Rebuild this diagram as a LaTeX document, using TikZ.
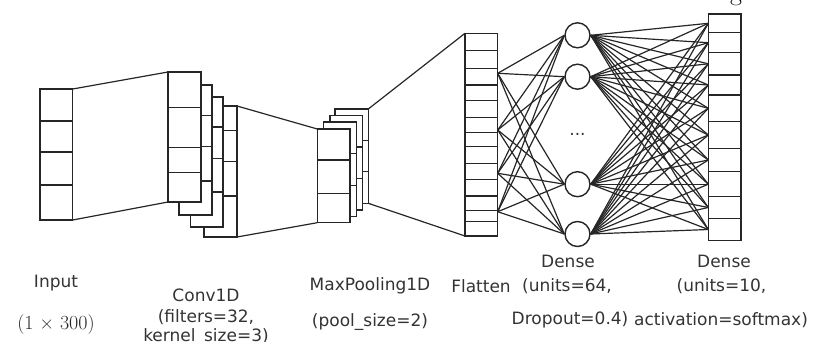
\documentclass[tikz,border=0pt]{standalone}
\usepackage{fontspec}
\setsansfont{DejaVu Sans}
\usetikzlibrary{fit}
\begin{document}
\begin{tikzpicture}[x=1pt,y=-1pt,
  layer/.style={rectangle,draw=black!85,fill=white,line width=1.5pt,inner sep=0pt,outer sep=0pt},
  divider/.style={draw=black!85,line width=1.4pt},
  link/.style={draw=black!85,line width=1.2pt},
  neuron/.style={circle,draw=black!85,fill=white,line width=1.4pt,minimum size=25pt,inner sep=0pt},
  lbl/.style={text=black!80,font=\sffamily\fontsize{17}{19}\selectfont,inner sep=0pt},
  serlbl/.style={text=black!85,font=\rmfamily\fontsize{20}{22}\selectfont,inner sep=0pt}]
\useasboundingbox (0,0) rectangle (814,342);
\clip (0,0) rectangle (814,342);

% ---------- input vector ----------
\node[layer,fit={(40,89) (72.7,220)}] (inp) {};
\foreach \yy in {121,152,185} \draw[divider] (inp.west |- 0,\yy) -- (inp.east |- 0,\yy);

% ---------- Conv1D feature maps (back to front) ----------
\node[layer,fit={(204,106) (237,237)}] (c4) {};
\foreach \yy in {130.7,161.7,196} \draw[divider] (c4.west |- 0,\yy) -- (c4.east |- 0,\yy);
\node[layer,fit={(190.7,97) (223,227)}] (c3) {};
\foreach \yy in {127,158.7,192} \draw[divider] (c3.west |- 0,\yy) -- (c3.east |- 0,\yy);
\node[layer,fit={(179,85) (212,215)}] (c2) {};
\foreach \yy in {115.7,146.7,181} \draw[divider] (c2.west |- 0,\yy) -- (c2.east |- 0,\yy);
\node[layer,fit={(168,72) (201,202)}] (c1) {};
\foreach \yy in {107.7,147.7,172.7} \draw[divider] (c1.west |- 0,\yy) -- (c1.east |- 0,\yy);

% ---------- MaxPooling1D maps (back to front) ----------
\node[layer,fit={(335,109) (368.3,203.3)}] (m4) {};
\foreach \yy in {140.4,171.8} \draw[divider] (m4.west |- 0,\yy) -- (m4.east |- 0,\yy);
\node[layer,fit={(330,115.7) (362.7,210)}] (m3) {};
\foreach \yy in {147,178.5} \draw[divider] (m3.west |- 0,\yy) -- (m3.east |- 0,\yy);
\node[layer,fit={(323.3,122) (356.7,216.7)}] (m2) {};
\foreach \yy in {153.5,185.2} \draw[divider] (m2.west |- 0,\yy) -- (m2.east |- 0,\yy);
\node[layer,fit={(317.3,129) (350,222.7)}] (m1) {};
\foreach \yy in {160,193.3} \draw[divider] (m1.west |- 0,\yy) -- (m1.east |- 0,\yy);

% ---------- flatten vector ----------
\node[layer,fit={(465,33.3) (497.7,236)}] (flat) {};
\foreach \yy in {50.7,68.3,85,100.7,117.3,132.3,146.7,163.3,179.3,196,210.7,221.7}
  \draw[divider] (flat.west |- 0,\yy) -- (flat.east |- 0,\yy);

% ---------- output vector ----------
\node[layer,fit={(708.3,14) (741,240.7)}] (out) {};
\foreach \yy in {32.7,52.7,75,95,121.7,148.3,171.7,196.7,218.3}
  \draw[divider] (out.west |- 0,\yy) -- (out.east |- 0,\yy);

% ---------- projections between layers ----------
\draw[link] (inp.north east) -- (c1.north west);
\draw[link] (inp.south east) -- (c1.south west);
\draw[link] (c4.north east) -- (m1.north west);
\draw[link] (c4.south east) -- (m1.south west);
\draw[link] (m4.north east) -- (flat.north west);
\draw[link] (m4.south east) -- (flat.south west);

% ---------- dense hidden units ----------
\foreach \yy [count=\i] in {35.3,76.7,184.2,234}
  \node[neuron] (d\i) at (577.5,\yy) {};
\node[lbl,anchor=base] (dots) at (577.5,136) {...};

% flatten -> hidden
\foreach \yy [count=\i] in {73.3,130,173.3,211.7}
  \coordinate (fs\i) at (flat.east |- 0,\yy);
\foreach \s in {1,...,4}
  \foreach \d in {1,...,4}
    \draw[link] (fs\s) -- (d\d.west);

% hidden -> output cells
\foreach \yy [count=\i] in {23.3,42.7,63.8,85,108.3,135,160,184.2,207.5,229.5}
  \coordinate (ot\i) at (out.west |- 0,\yy);
\foreach \d in {1,...,4}
  \foreach \o in {1,...,10}
    \draw[link] (d\d.east) -- (ot\o);

% ---------- captions ----------
\node[lbl] (tInput) at (56,283) {Input};
\node[serlbl] (tShape) at (56,325) {(1 × 300)};
\node[lbl] (tConv) at (206,295) {Conv1D};
\node[lbl] (tFilt) at (206,317) {(filters=32,};
\node[lbl] (tKern) at (206,337) {kernel\_size=3)};
\node[lbl] (tPool) at (370,286) {MaxPooling1D};
\node[lbl] (tPsz) at (370,322) {(pool\_size=2)};
\node[lbl] (tFlat) at (481,286) {Flatten};
\node[lbl] (tDense1) at (568,261) {Dense};
\node[lbl] (tU64) at (567,286) {(units=64,};
\node[lbl] (tDrop) at (570,320) {Dropout=0.4)};
\node[lbl] (tDense2) at (724,261) {Dense};
\node[lbl] (tU10) at (721.5,286) {(units=10,};
\node[lbl] (tAct) at (721,320) {activation=softmax)};
\node[anchor=base,text=black,font=\rmfamily\fontsize{26}{28}\selectfont,inner sep=0pt] (tG) at (736,0.5) {g};
\end{tikzpicture}
\end{document}
